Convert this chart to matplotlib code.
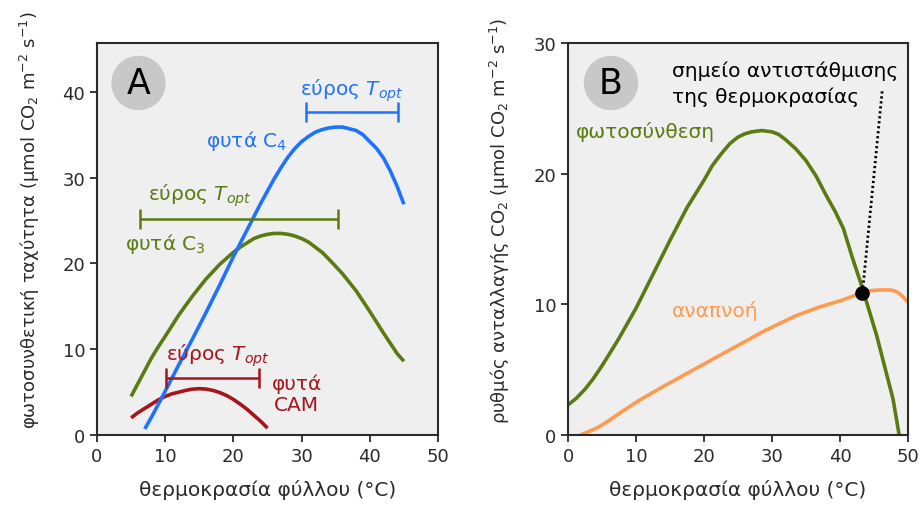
import numpy as np
import matplotlib.pyplot as plt
from matplotlib.patches import Circle

# Panel A: photosynthetic rate vs leaf temperature
c4_x = [7, 8, 10, 12, 14, 16, 18, 20, 22, 24, 26, 27, 28, 29, 30, 31, 32, 33, 34, 35, 36, 37, 38, 39, 40, 41, 42, 43, 44, 45]
c4_y = [0.7, 2.1, 5.1, 8.2, 11.2, 14.3, 17.5, 20.8, 23.9, 27.0, 29.9, 31.2, 32.4, 33.4, 34.2, 34.8, 35.3, 35.6, 35.8, 35.9, 35.9, 35.7, 35.5, 35.0, 34.2, 33.4, 32.3, 30.8, 29.0, 26.9]
c3_x = [5, 6, 7, 8, 9, 10, 12, 14, 16, 18, 20, 21, 22, 23, 24, 25, 26, 27, 28, 29, 30, 31, 32, 33, 34, 36, 38, 40, 42, 44, 45]
c3_y = [4.5, 6.0, 7.5, 9.0, 10.3, 11.5, 14.0, 16.2, 18.2, 19.9, 21.3, 21.9, 22.4, 22.9, 23.2, 23.4, 23.5, 23.5, 23.4, 23.2, 22.9, 22.5, 21.9, 21.3, 20.5, 18.8, 16.8, 14.4, 11.9, 9.5, 8.6]
cam_x = [5, 6, 7, 8, 9, 10, 11, 12, 13, 14, 15, 16, 17, 18, 19, 20, 21, 22, 23, 24, 25]
cam_y = [2.0, 2.6, 3.1, 3.6, 4.1, 4.5, 4.8, 5.0, 5.2, 5.35, 5.4, 5.35, 5.2, 4.95, 4.6, 4.15, 3.6, 3.0, 2.3, 1.6, 0.8]

# T_opt ranges (start, end, level)
c4_range = (30.6, 44.1, 37.7)
c3_range = (6.3, 35.4, 25.2)
cam_range = (10.1, 23.7, 6.6)

# Panel B: CO2 exchange rate vs leaf temperature
ps_x = [0, 1.2, 2.5, 3.7, 5, 6.2, 7.5, 10, 12.5, 15, 17.5, 20, 21.2, 22.5, 23.8, 25, 26, 27, 28.5, 30, 31, 32,
        33.5, 35, 36.5, 38, 39.3, 40.5, 41.8, 43.2, 45.4, 47.8, 48.7]
ps_y = [2.3, 2.8, 3.5, 4.3, 5.3, 6.3, 7.4, 9.7, 12.3, 14.9, 17.4, 19.5, 20.6, 21.5, 22.3, 22.8, 23.05, 23.2, 23.3, 23.2, 23.0, 22.6,
        21.9, 21.0, 19.8, 18.3, 17.1, 15.8, 13.6, 11.4, 7.6, 2.75, 0.0]
resp_x = [1.8, 3.0, 4.5, 6.0, 7.4, 10.3, 14.3, 19.2, 24.1, 29.0, 33.4, 37, 40.2, 43.3, 44.6, 45.9, 47.4, 48.2, 48.8, 49.4, 50]
resp_y = [0.0, 0.25, 0.6, 1.1, 1.6, 2.6, 3.8, 5.2, 6.6, 8.0, 9.1, 9.8, 10.3, 10.9, 11.05, 11.1, 11.1, 11.0, 10.8, 10.5, 10.15]
comp_pt = (43.3, 10.9)
comp_line_top = (46.2, 26.3)

blue = '#1f72ff'
green = '#5b7a12'
red = '#a8141c'
orange = '#ff9a4f'
bg = '#efefef'
dark = '#2a2a2a'
fs = 13      # tick labels
fl = 14.5    # axis labels / annotations

fig = plt.figure(figsize=(9.23, 5.06), dpi=100)
axA = fig.add_axes([97/923, 1-436/506, 341/923, 392/506])
axB = fig.add_axes([568/923, 1-436/506, 340/923, 392/506])

for ax in (axA, axB):
    ax.set_facecolor(bg)
    for s in ax.spines.values():
        s.set_linewidth(1.5)
        s.set_color(dark)
    ax.tick_params(direction='out', length=5, width=1.3, labelsize=fs, colors=dark)
    ax.set_xlim(0, 50)
    ax.set_xticks([0, 10, 20, 30, 40, 50])
    ax.set_xlabel('θερμοκρασία φύλλου (°C)', fontsize=fl, color=dark, labelpad=10)

lw = 2.6
# Panel A
axA.set_ylim(0, 45.7)
axA.set_yticks([0, 10, 20, 30, 40])
axA.plot(c3_x, c3_y, color=green, lw=lw, solid_capstyle='butt')
axA.plot(cam_x, cam_y, color=red, lw=lw, solid_capstyle='butt')
axA.plot(c4_x, c4_y, color=blue, lw=lw, solid_capstyle='butt')
for (a, b, lev), col in [(c4_range, blue), (c3_range, green), (cam_range, red)]:
    axA.errorbar((a + b) / 2, lev, xerr=(b - a) / 2, color=col, lw=1.8,
                 capsize=7, capthick=1.8)
axA.text(37.3, 40.3, 'εύρος $T_{opt}$', color=blue, fontsize=fl, ha='center', va='center')
axA.text(15.1, 28.0, 'εύρος $T_{opt}$', color=green, fontsize=fl, ha='center', va='center')
axA.text(17.7, 9.3, 'εύρος $T_{opt}$', color=red, fontsize=fl, ha='center', va='center')
axA.text(22.0, 34.4, 'φυτά C$_4$', color=blue, fontsize=fl, ha='center', va='center')
axA.text(10.0, 22.4, 'φυτά C$_3$', color=green, fontsize=fl, ha='center', va='center')
axA.text(29.3, 4.8, 'φυτά\nCAM', color=red, fontsize=fl, ha='center', va='center', linespacing=1.1)
axA.set_ylabel('φωτοσυνθετική ταχύτητα (μmol CO$_2$ m$^{-2}$ s$^{-1}$)',
               fontsize=fs, color=dark)
axA.yaxis.set_label_coords(-0.16, 0.55)

# Panel B
axB.set_ylim(0, 30)
axB.set_yticks([0, 10, 20, 30])
axB.plot(resp_x, resp_y, color=orange, lw=lw, solid_capstyle='butt')
axB.plot(ps_x, ps_y, color=green, lw=lw, solid_capstyle='butt')
axB.plot([comp_pt[0], comp_line_top[0]], [comp_pt[1], comp_line_top[1]],
         color='black', lw=2.0, ls=(0, (0.8, 1.0)))
axB.plot(*comp_pt, 'o', color='black', ms=9.5, zorder=5)
axB.text(15.3, 27.9, 'σημείο αντιστάθμισης', fontsize=fl, color='black', va='center')
axB.text(15.3, 25.9, 'της θερμοκρασίας', fontsize=fl, color='black', va='center')
axB.text(1.2, 23.3, 'φωτοσύνθεση', fontsize=fl, color=green, va='center')
axB.text(21.6, 9.6, 'αναπνοή', fontsize=fl, color=orange, va='center', ha='center')
axB.set_ylabel('ρυθμός ανταλλαγής CO$_2$ (μmol CO$_2$ m$^{-2}$ s$^{-1}$)',
               fontsize=fs, color=dark)
axB.yaxis.set_label_coords(-0.165, 0.55)

# panel letters in grey discs (pixel coordinates)
for letter, cx, cy in [('A', 138.5, 84), ('B', 611, 84)]:
    fig.patches.append(Circle((cx, 506 - cy), 26.5, transform=None, color='#c8c8c8', zorder=3))
    fig.text(cx / 923, 1 - cy / 506, letter, fontsize=25, ha='center', va='center',
             color='black', zorder=4)

fig.savefig('out.png', dpi=100)
